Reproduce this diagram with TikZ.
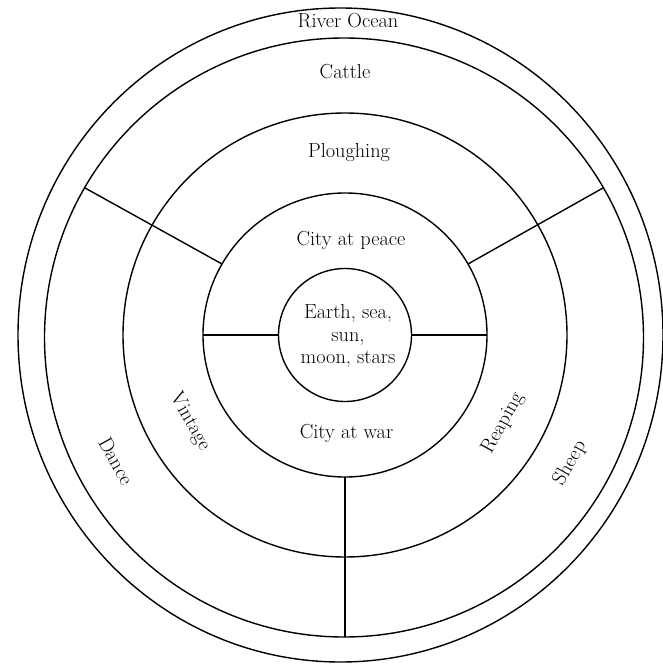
\documentclass[tikz,border=0pt]{standalone}
\usetikzlibrary{shapes.geometric}
\begin{document}
\begin{tikzpicture}[x=1pt,y=1pt,
  ring/.style={draw, line width=1.4pt, inner sep=0pt, outer sep=0pt},
  ringline/.style={line width=1.4pt},
  lbl/.style={font=\fontsize{20.3}{22.5}\selectfont, inner sep=0pt}]
\useasboundingbox (0,0) rectangle (662,-666);
% rings
\node[ring, ellipse, minimum width=645pt, minimum height=654pt] (c0) at (340.5,-335) {};
\node[ring, circle, minimum size=599pt] (c1) at (344,-337.5) {};
\node[ring, circle, minimum size=444pt] (c2) at (345,-335) {};
\node[ring, circle, minimum size=284pt] (c3) at (345,-335) {};
\node[ring, circle, minimum size=133pt] (c4) at (345,-335) {};
% dividers
\draw[ringline] (c3.150) -- (c1.150);
\draw[ringline] (c3.30) -- (c1.30);
\draw[ringline] (c3.180) -- (c4.180);
\draw[ringline] (c4.0) -- (c3.0);
\draw[ringline] (c3.270) -- (c3.270 |- c1.270);
% labels
\node[lbl] (river) at (348,-21) {River Ocean};
\node[lbl] (cattle) at (345,-71.5) {Cattle};
\node[lbl] (plough) at (349,-153) {Ploughing};
\node[lbl] (peace) at (351,-240.5) {City at peace};
\node[lbl, align=center] (earth) at (348,-336) {Earth, sea,\\sun,\\moon, stars};
\node[lbl] (war) at (346.5,-433) {City at war};
\node[lbl, rotate=-60.5] (vintage) at (190,-422) {Vintage};
\node[lbl, rotate=-61] (dance) at (116,-461) {Dance};
\node[lbl, rotate=61] (reaping) at (503,-423) {Reaping};
\node[lbl, rotate=60.5] (sheep) at (570,-463) {Sheep};
\end{tikzpicture}
\end{document}
